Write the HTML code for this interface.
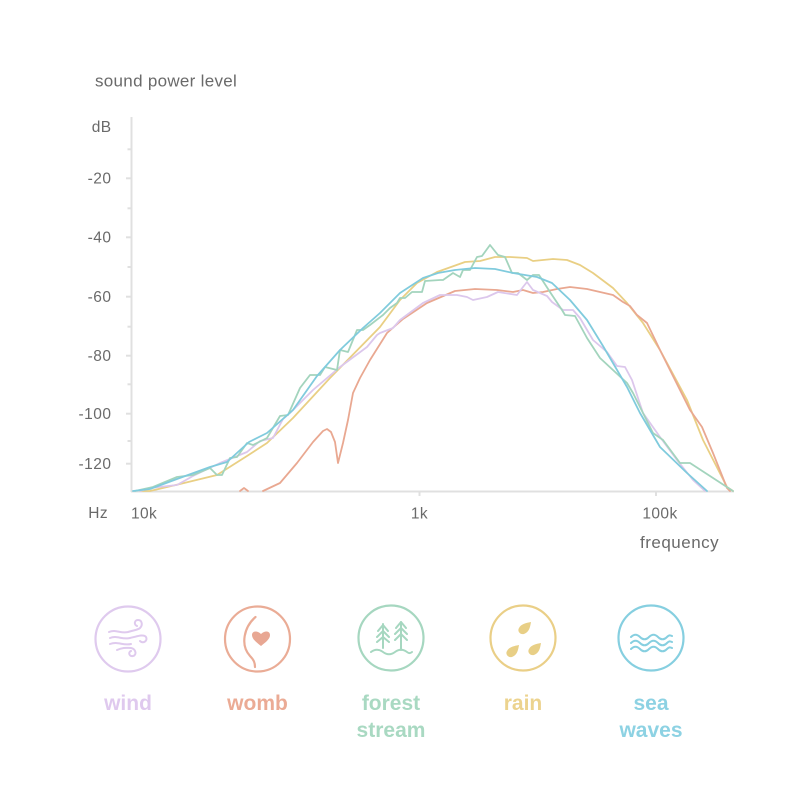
<!DOCTYPE html>
<html><head><meta charset="utf-8"><style>
html,body{margin:0;padding:0;background:#fff;}
svg{display:block;}
text{font-family:"Liberation Sans",sans-serif;}
</style></head><body>
<svg width="800" height="800" viewBox="0 0 800 800" xmlns="http://www.w3.org/2000/svg">
<rect width="800" height="800" fill="#fff"/>
<!-- titles -->
<text x="95" y="86.5" font-size="17" letter-spacing="0.3" fill="#6a6a6a">sound power level</text>
<text x="111.5" y="132" font-size="15.5" letter-spacing="0.4" fill="#6a6a6a" text-anchor="end">dB</text>
<g font-size="15.5" letter-spacing="0.5" fill="#6a6a6a" text-anchor="end">
<text x="111.5" y="183.5">-20</text>
<text x="111.5" y="242.5">-40</text>
<text x="111.5" y="302">-60</text>
<text x="111.5" y="361">-80</text>
<text x="111.5" y="419">-100</text>
<text x="111.5" y="469">-120</text>
</g>
<text x="108" y="518" font-size="15.5" letter-spacing="0.4" fill="#6a6a6a" text-anchor="end">Hz</text>
<text x="131" y="518.5" font-size="15.5" letter-spacing="0.4" fill="#6a6a6a">10k</text>
<text x="419.5" y="518.5" font-size="15.5" letter-spacing="0.4" fill="#6a6a6a" text-anchor="middle">1k</text>
<text x="660" y="518.5" font-size="15.5" letter-spacing="0.4" fill="#6a6a6a" text-anchor="middle">100k</text>
<text x="640" y="548" font-size="17" letter-spacing="0.5" fill="#6a6a6a">frequency</text>
<!-- axes -->
<g stroke="#e0e0e0" stroke-width="2" fill="none">
<line x1="131.5" y1="117" x2="131.5" y2="492"/>
<line x1="131" y1="491.5" x2="734" y2="491.5"/>
<line x1="126" y1="178.3" x2="131" y2="178.3"/>
<line x1="126" y1="237.3" x2="131" y2="237.3"/>
<line x1="126" y1="296.7" x2="131" y2="296.7"/>
<line x1="126" y1="355.7" x2="131" y2="355.7"/>
<line x1="126" y1="413.7" x2="131" y2="413.7"/>
<line x1="126" y1="463.7" x2="131" y2="463.7"/>
<line x1="127.5" y1="149.3" x2="131" y2="149.3"/>
<line x1="127.5" y1="208.3" x2="131" y2="208.3"/>
<line x1="127.5" y1="267" x2="131" y2="267"/>
<line x1="127.5" y1="326.7" x2="131" y2="326.7"/>
<line x1="127.5" y1="384.3" x2="131" y2="384.3"/>
<line x1="127.5" y1="441" x2="131" y2="441"/>
<line x1="419.5" y1="491" x2="419.5" y2="496"/>
<line x1="656" y1="491" x2="656" y2="496"/>
</g>
<!-- series -->
<g fill="none" stroke-width="1.8" stroke-linejoin="round" stroke-linecap="round">
<!-- rain yellow -->
<polyline stroke="#e9cf84" points="140,491 150,491 180,484 217,475 247,456 267,443 293,418 330,378 380,327 400,300 417,283 437,272 465,262 480,261 495,257 510,257 527,258 533,261 553,259 567,260 580,265 593,273 613,288 627,303 643,323 660,350 687,400 703,440 727,487 733,491"/>
<!-- womb salmon -->
<polyline stroke="#e9a891" points="240,491 244,488 248,491"/>
<polyline stroke="#e9a891" points="263,491 280,483 297,463 313,442 323,431 327,429 331,432 335,442 338,463 340,455 343,443 348,420 353,393 360,378 370,360 387,333 403,319 427,303 455,291 475,289 497,290 513,292 523,290 533,293 543,292 557,289 570,287 587,289 613,295 623,302 630,306 637,315 647,323 660,350 690,410 702,427 713,453 727,488 730,491"/>
<!-- wind lavender -->
<polyline stroke="#dcc7ec" points="140,491 150,488 177,485 193,476 220,463 247,452 260,441 273,438 283,419 290,413 313,390 340,367 367,347 377,335 380,333 393,328 400,320 423,303 440,295 457,295 467,297 473,300 487,297 498,292 517,295 523,287 527,282 533,290 540,293 547,296 552,302 563,310 573,310 580,318 593,340 607,352 617,366 625,367 632,380 643,413 660,437 677,460 693,480 705,491"/>
<!-- forest green -->
<polyline stroke="#a3d4bd" points="135,491 153,487 177,477 193,475 210,468 217,475 222,475 230,458 237,457 247,443 253,445 267,438 280,416 288,415 300,388 310,375 320,375 325,367 337,370 340,350 348,352 357,330 363,330 370,325 383,315 390,308 397,303 400,298 405,298 412,292 422,292 425,281 440,280 443,280 453,273 460,277 463,270 470,270 477,257 482,256 490,245 498,255 505,257 512,273 518,273 527,280 533,275 539,275 550,292 562,310 565,315 575,316 587,338 600,358 627,383 633,393 653,433 663,440 680,463 690,463 733,491"/>
<!-- sea blue -->
<polyline stroke="#80cbdd" points="133,491 150,489 177,479 210,467 227,462 249,442 267,433 293,410 317,376 340,350 363,328 380,313 400,293 423,278 438,273 455,270 475,268 495,269 513,273 537,277 552,283 570,300 587,320 603,346 627,387 640,413 660,447 687,473 707,491"/>
</g>
<!-- legend icons -->
<g fill="none" stroke-width="2.2" stroke-linecap="round" stroke-linejoin="round">
<!-- wind -->
<circle cx="128" cy="639" r="32.5" stroke="#dfcaee"/>
<g stroke="#dfcaee" stroke-width="2">
<path d="M109,632 C116,629 121,634 128,632 C134,630 138,630 140,628 C143,625 142,620 138,620 C134,620 134,625 137,626"/>
<path d="M110,638 C117,635 122,640 130,638 C138,636 144,634 146,637 C148,641 143,644 140,641"/>
<path d="M110,644 C118,641 123,646 131,644"/>
<path d="M117,650 C124,647 127,648 131,648 C136,649 137,655 133,656 C129,657 128,652 131,651"/>
</g>
<!-- womb -->
<circle cx="257.5" cy="639" r="32.5" stroke="#eaac96"/>
<path d="M255.5,617 C244,627 240,645 250,656 C254,660 255,663 255,667" stroke="#eaac96"/>
<path d="M261,646 C256,642 252,639 252,635 C252,631 257,630 261,634 C265,630 270,631 270,635 C270,639 266,642 261,646 Z" fill="#e8a793" stroke="none"/>
<!-- forest -->
<circle cx="391" cy="638" r="32.5" stroke="#a6d7c0"/>
<g stroke="#a6d7c0" stroke-width="2">
<line x1="383" y1="624" x2="383" y2="648"/>
<path d="M378,631 L383,625 L388,631 M377,637 L383,631 L389,637 M377,642 L383,637 L389,642"/>
<line x1="401" y1="622" x2="401" y2="650"/>
<path d="M396,628 L401,622 L406,628 M395,634 L401,628 L407,634 M395,640 L401,634 L407,640"/>
<path d="M371,652 C375,649 379,649 383,652 C387,655 391,655 395,652 C399,649 403,649 407,652 C409,653.5 410,653.5 412,652"/>
</g>
<!-- rain -->
<circle cx="523" cy="638" r="32.5" stroke="#eacf87"/>
<g fill="#e8cf86" stroke="none">
<path d="M531,622 C530,628 529,632 524,634 C520,635 517,631 519,628 C521,624 526,623 531,622 Z"/>
<path d="M519,645 C518,651 517,655 512,657 C508,658 505,654 507,651 C509,647 514,646 519,645 Z"/>
<path d="M541,643 C540,649 539,653 534,655 C530,656 527,652 529,649 C531,645 536,644 541,643 Z"/>
</g>
<!-- sea -->
<circle cx="651" cy="638" r="32.5" stroke="#86cfe0"/>
<g stroke="#86cfe0" stroke-width="2">
<path d="M631,637 C634,634 637,634 640,637 C643,640 646,640 649,637 C652,634 655,634 658,637 C661,640 664,640 667,637 C669,635 670,635 672,636"/>
<path d="M631,643 C634,640 637,640 640,643 C643,646 646,646 649,643 C652,640 655,640 658,643 C661,646 664,646 667,643 C669,641 670,641 672,642"/>
<path d="M631,649 C634,646 637,646 640,649 C643,652 646,652 649,649 C652,646 655,646 658,649 C661,652 664,652 667,649 C669,647 670,647 672,648"/>
</g>
</g>
<!-- legend labels -->
<g font-size="21" font-weight="bold" text-anchor="middle">
<text x="128" y="710" fill="#dfc9ee">wind</text>
<text x="257.5" y="710" fill="#ebab95">womb</text>
<text x="391" y="710" fill="#a9d9c2">forest</text>
<text x="391" y="737" fill="#a9d9c2">stream</text>
<text x="523" y="710" fill="#ecd38e">rain</text>
<text x="651" y="710" fill="#8dd2e3">sea</text>
<text x="651" y="737" fill="#8dd2e3">waves</text>
</g>
</svg>
</body></html>
